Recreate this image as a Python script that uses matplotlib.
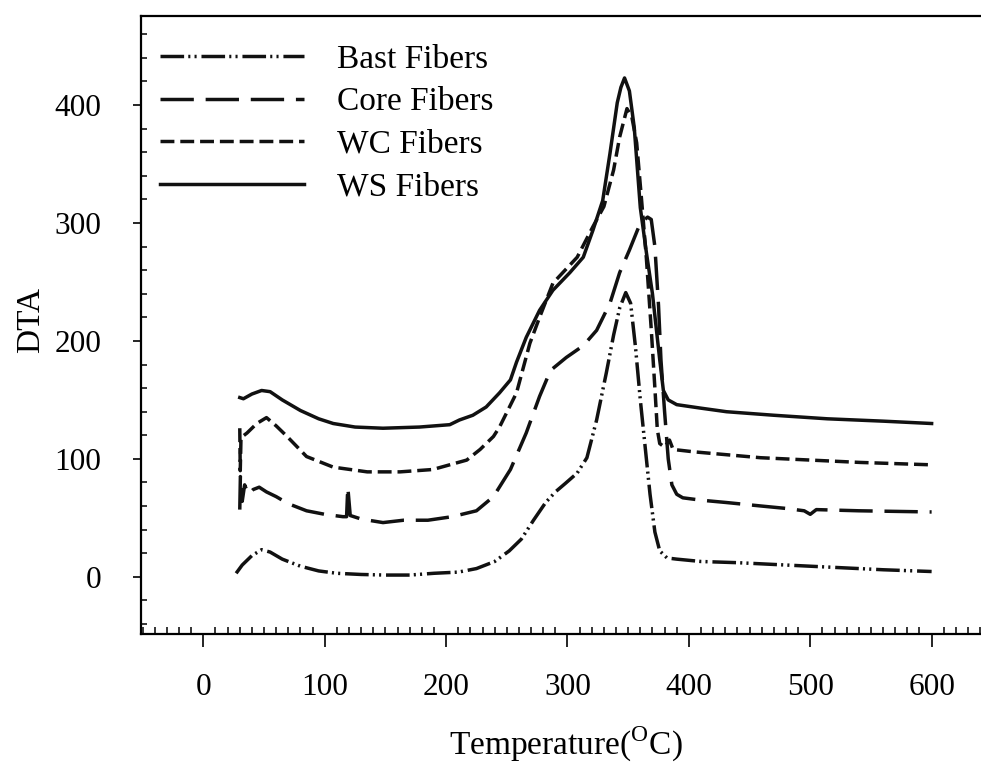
import matplotlib
matplotlib.use('Agg')
import matplotlib.pyplot as plt
from matplotlib.ticker import MultipleLocator

plt.rcParams['font.family'] = ['Liberation Serif', 'DejaVu Serif']
plt.rcParams['mathtext.fontset'] = 'custom'
plt.rcParams['mathtext.rm'] = 'Liberation Serif'

# DTA curves (temperature in C)
bast_t = [27, 32, 40, 48, 55, 65, 80, 95, 110, 130,
          150, 170, 190, 210, 225, 240, 252, 262, 272, 282,
          290, 298, 308, 316, 324, 332, 338, 343, 348, 352,
          356, 360, 364, 368, 372, 376, 382, 390, 410, 440,
          480, 520, 560, 600]
bast_v = [3, 10, 18, 23, 21, 15, 9, 5, 3, 2,
          1.5, 1.5, 3, 4, 7, 13, 22, 32, 48, 63,
          72, 79, 88, 101, 133, 173, 205, 228, 241, 232,
          195, 150, 110, 70, 38, 22, 16, 15, 13, 12,
          10, 8, 6, 4.5]

core_t = [30, 30.5, 32, 34, 37, 41, 46, 52, 60, 70,
          85, 100, 115, 118, 119, 121, 130, 148, 165, 185,
          205, 225, 239, 253, 266, 277, 286, 299, 313, 324,
          335, 343, 351, 360, 366, 369, 372, 375, 377, 380,
          383, 386, 390, 395, 410, 431, 460, 480, 495, 500,
          505, 540, 600]
core_v = [57, 85, 64, 78, 70, 74, 76, 72, 68, 62,
          56, 53, 51, 51, 76, 52, 49, 46, 48, 48,
          51, 56, 68, 91, 122, 153, 175, 186, 196, 209,
          232, 258, 277, 300, 305, 303, 280, 230, 184, 140,
          100, 78, 70, 67, 65, 63, 60, 58, 56, 53,
          57, 56, 55]

wc_t = [30, 30.4, 31, 36, 44, 52, 60, 69, 85, 107,
        135, 162, 189, 217, 228, 239, 244, 258, 269, 277,
        288, 308, 321, 330, 338, 343, 349, 353, 357, 361,
        365, 369, 372, 374, 376, 380, 384, 387, 404, 459,
        541, 599]
wc_v = [126, 90, 118, 122, 130, 135, 128, 119, 102, 93,
        89, 89, 91, 99, 108, 119, 127, 156, 198, 220,
        249, 271, 297, 314, 345, 373, 397, 390, 368, 320,
        270, 210, 160, 125, 113, 110, 116, 108, 106, 101,
        97, 95]

ws_t = [30, 33, 40, 48, 55, 65, 80, 95, 107, 125,
        148, 178, 203, 211, 222, 233, 244, 253, 258, 266,
        277, 288, 302, 313, 321, 329, 335, 341, 344, 347,
        351, 355, 360, 365, 370, 376, 379, 383, 390, 410,
        431, 470, 514, 560, 600]
ws_v = [152, 151, 155, 158, 157, 150, 141, 134, 130, 127,
        126, 127, 129, 133, 137, 144, 156, 167, 182, 203,
        226, 243, 258, 271, 294, 319, 359, 402, 415, 423,
        412, 381, 313, 275, 240, 184, 158, 150, 146, 143,
        140, 137, 134, 132, 130]

fig = plt.figure(figsize=(9.81, 7.75), dpi=100)
ax = fig.add_axes([0.1442, 0.1819, 0.8797, 0.7974])

lw = 2.5
ax.plot(bast_t, bast_v, color='#111111', lw=lw,
        linestyle=(0, (6.8, 1.2, 0.6, 1.2, 0.6, 1.4)), label='Bast Fibers')
ax.plot(core_t, core_v, color='#111111', lw=lw,
        linestyle=(0, (9.6, 3.4)), label='Core Fibers')
ax.plot(wc_t, wc_v, color='#111111', lw=lw,
        linestyle=(0, (4.0, 1.7)), label='WC Fibers')
ax.plot(ws_t, ws_v, color='#111111', lw=lw, linestyle='-', label='WS Fibers')

ax.set_xlim(-51, 660)
ax.set_ylim(-48.5, 475.5)

ax.xaxis.set_major_locator(MultipleLocator(100))
ax.xaxis.set_minor_locator(MultipleLocator(10))
ax.yaxis.set_major_locator(MultipleLocator(100))
ax.yaxis.set_minor_locator(MultipleLocator(20))

ax.tick_params(axis='x', which='major', direction='out', length=9, width=1.2,
               pad=19, labelsize=22.5)
ax.tick_params(axis='x', which='minor', direction='in', length=5, width=1.1)
ax.tick_params(axis='y', which='major', direction='out', length=6, width=1.2,
               pad=23, labelsize=22.5)
ax.tick_params(axis='y', which='minor', direction='in', length=4, width=1.1)

for spine in ax.spines.values():
    spine.set_linewidth(1.6)

ax.set_xlabel('Temperature($^{\\mathrm{O}}$C)', fontsize=24)
ax.set_ylabel('DTA', fontsize=24)
ax.xaxis.set_label_coords(0.492, -0.147)
ax.yaxis.set_label_coords(-0.111, 0.508)

ax.legend(loc='upper left', bbox_to_anchor=(0.022, 0.954), frameon=False,
          fontsize=24, handlelength=4.3, handletextpad=1.0, labelspacing=0.36,
          borderpad=0, borderaxespad=0)

fig.savefig('out.png', dpi=100)
